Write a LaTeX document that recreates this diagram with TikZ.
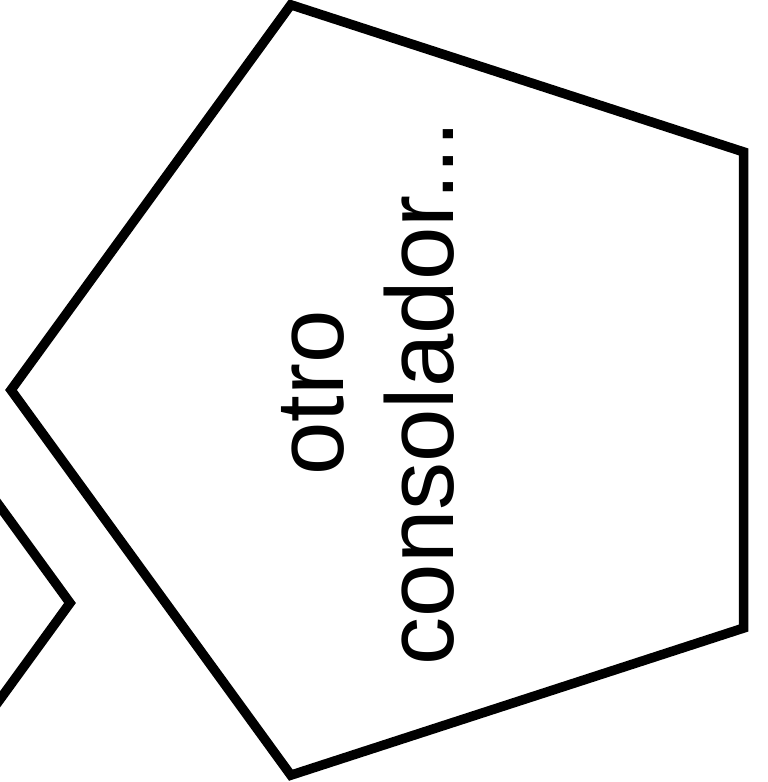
\documentclass[tikz,border=0pt]{standalone}
\usepackage{fontspec}
\setmainfont{Liberation Sans}
\usetikzlibrary{shapes.geometric, positioning}

\begin{document}
\begin{tikzpicture}[x=1pt, y=1pt, font=\fontsize{96}{110}\selectfont,
    penta/.style={regular polygon, regular polygon sides=5, draw=black,
                  line width=9.5pt, minimum size=810pt, inner sep=0pt}]
  \useasboundingbox (0,0) rectangle (768,782);
  \clip (0,0) rectangle (768,782);
  % neighbour pentagon, mostly off the page
  \node[penta, rotate=-90] (prev) at (-335,179) {};
  \node[penta, rotate=90] (main) at (416,392) {};
  \node[rotate=90, anchor=south, inner sep=0pt, align=center] (label)
    at ([xshift=39pt, yshift=-3pt]main.center) {otro\\consolador...};
\end{tikzpicture}
\end{document}
